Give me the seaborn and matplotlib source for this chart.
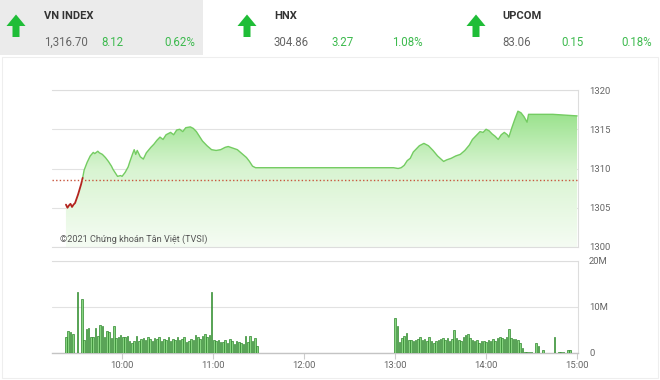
import numpy as np
import pandas as pd
import seaborn as sns
import matplotlib.pyplot as plt
from matplotlib.colors import LinearSegmentedColormap
from matplotlib.patches import Polygon, Rectangle, PathPatch

# --- header data
index_names = ['VN INDEX', 'HNX', 'UPCOM']
index_values = ['1,316.70', '304.86', '83.06']
index_changes = ['8.12', '3.27', '0.15']
index_pct = ['0.62%', '1.08%', '0.18%']

prev_close = 1308.58

# --- intraday VN-Index (time, points)
price_times = [
    '09:23', '09:24', '09:25', '09:26', '09:27', '09:28', '09:29', '09:31', '09:33', '09:34',
    '09:35', '09:37', '09:39', '09:41', '09:42', '09:44', '09:45', '09:47', '09:49', '09:51',
    '09:53', '09:54', '09:56', '09:57', '09:59', '10:00', '10:02', '10:04', '10:05', '10:07',
    '10:08', '10:09', '10:10', '10:12', '10:14', '10:16', '10:19', '10:21', '10:23', '10:25',
    '10:27', '10:29', '10:32', '10:34', '10:36', '10:38', '10:40', '10:42', '10:45', '10:47',
    '10:49', '10:51', '10:53', '10:56', '10:59', '11:02', '11:05', '11:08', '11:10', '11:13',
    '11:16', '11:19', '11:22', '11:24', '11:26', '11:28', '11:30', '12:59', '13:02', '13:04',
    '13:06', '13:08', '13:10', '13:12', '13:14', '13:16', '13:19', '13:22', '13:25', '13:28',
    '13:32', '13:34', '13:37', '13:40', '13:43', '13:46', '13:49', '13:51', '13:54', '13:56',
    '13:58', '14:00', '14:02', '14:04', '14:06', '14:08', '14:10', '14:12', '14:14', '14:15',
    '14:17', '14:19', '14:21', '14:23', '14:25', '14:27', '14:28', '14:44', '15:00',
]
price_values = [
    1305.4, 1305.0, 1305.3, 1305.5, 1305.1, 1305.4, 1305.6, 1306.7, 1308.0, 1308.8,
    1309.8, 1310.8, 1311.6, 1312.05, 1311.9, 1312.2, 1312.0, 1311.8, 1311.4, 1310.9,
    1310.3, 1309.9, 1309.3, 1309.0, 1309.1, 1309.0, 1309.5, 1310.2, 1310.8, 1311.9,
    1312.4, 1311.8, 1312.3, 1311.5, 1311.2, 1312.0, 1312.7, 1313.1, 1313.6, 1314.0,
    1313.7, 1314.3, 1314.6, 1314.3, 1314.9, 1315.0, 1314.7, 1315.2, 1315.3, 1315.1,
    1314.7, 1314.1, 1313.5, 1312.9, 1312.4, 1312.3, 1312.4, 1312.7, 1312.8, 1312.6,
    1312.4, 1311.9, 1311.4, 1310.9, 1310.3, 1310.1, 1310.1, 1310.1, 1310.0, 1310.1,
    1310.4, 1311.0, 1311.3, 1312.1, 1312.5, 1312.9, 1313.2, 1312.9, 1312.3, 1311.6,
    1310.9, 1311.1, 1311.3, 1311.6, 1311.8, 1312.3, 1313.0, 1313.7, 1314.3, 1314.7,
    1314.6, 1315.0, 1314.8, 1314.4, 1314.1, 1313.7, 1314.3, 1314.6, 1314.3, 1314.0,
    1315.2, 1316.3, 1317.3, 1317.1, 1316.6, 1315.9, 1316.9, 1316.9, 1316.7,
]

# --- matched volume (million shares), one bar every 1.5 minutes
am_start, pm_start, bar_step = '09:23', '13:00', 1.5
am_volume = [
    3.5, 4.8, 4.5, 4.1, 0, 13.2, 0, 11.7, 2.8, 5.2,
    5.4, 3.5, 3.4, 5.4, 3.8, 6.0, 5.9, 3.5, 4.8, 4.5,
    3.2, 5.8, 3.2, 3.5, 3.9, 3.5, 3.4, 3.6, 2.6, 2.1,
    2.6, 3.8, 2.6, 3.1, 3.3, 2.9, 3.4, 3.0, 2.7, 3.3,
    3.0, 3.4, 2.6, 3.1, 2.8, 3.4, 2.7, 3.1, 2.9, 3.5,
    2.8, 3.0, 3.4, 2.5, 2.7, 3.1, 2.9, 3.9, 3.5, 3.1,
    3.8, 4.1, 3.4, 3.9, 13.2, 2.8, 2.6, 2.9, 2.5, 2.4,
    2.9, 2.2, 3.1, 2.6, 2.0, 2.7, 2.4, 2.1, 2.0, 3.6,
    2.5, 3.8, 2.7, 3.3, 1.5,
]
pm_volume = [
    7.6, 5.8, 2.5, 3.2, 3.6, 4.4, 2.9, 2.9, 2.6, 2.8,
    3.0, 3.5, 2.9, 3.0, 2.6, 3.5, 2.6, 2.2, 2.6, 2.9,
    3.0, 3.2, 2.9, 3.2, 2.6, 3.0, 4.9, 3.2, 2.9, 2.6,
    3.5, 3.9, 4.2, 3.2, 2.9, 2.6, 2.9, 2.2, 2.6, 2.7,
    2.5, 2.9, 2.7, 3.1, 2.6, 3.2, 3.4, 3.2, 3.0, 3.4,
    5.2, 3.2, 3.0, 3.0, 2.9, 2.2, 1.0, 0.3, 0.3, 0.3,
    0.3, 0, 2.2, 1.5, 0, 0.6, 0, 0, 0, 0,
    3.5, 0, 0.3, 0.3, 0.3, 0, 0.6, 0.6,
]
hour_ticks = [10, 11, 12, 13, 14, 15]


def to_hours(s):
    h, m = s.split(':')
    return int(h) + int(m) / 60


price = pd.DataFrame({'t': [to_hours(s) for s in price_times], 'p': price_values})
vol = pd.DataFrame({
    't': [to_hours(am_start) + i * bar_step / 60 for i in range(len(am_volume))]
         + [to_hours(pm_start) + i * bar_step / 60 for i in range(len(pm_volume))],
    'v': am_volume + pm_volume,
})

sns.set_style('white')
plt.rcParams['font.family'] = ['Roboto', 'DejaVu Sans']

fig = plt.figure(figsize=(6.6, 3.8), dpi=100)

# background / header layer in pixel coordinates
bg = fig.add_axes([0, 0, 1, 1], zorder=0)
bg.set_xlim(0, 660)
bg.set_ylim(380, 0)
bg.axis('off')
bg.add_patch(Rectangle((0, 0), 203, 55, color='#ebebeb', lw=0))
bg.add_patch(Rectangle((2, 57), 656, 321, fill=False, ec='#eeeeee', lw=0.8))

arrow_x = [16, 247, 476]
label_x = [44, 274, 502]
change_x = [101, 332, 561]
pct_x = [164, 392, 621]
for i in range(3):
    cx = arrow_x[i]
    bg.add_patch(Polygon([(cx, 14.5), (cx + 9.5, 26), (cx + 3.5, 26), (cx + 3.5, 37),
                          (cx - 3.5, 37), (cx - 3.5, 26), (cx - 9.5, 26)],
                         closed=True, color='#1fbd37', lw=0))
    bg.text(label_x[i], 16, index_names[i], fontsize=8, fontweight='bold',
            color='#333333', va='center', ha='left')
    bg.text(label_x[i], 42, index_values[i], fontsize=8.3, color='#666666',
            va='center', ha='left')
    bg.text(change_x[i], 42, index_changes[i], fontsize=8.3, color='#3dba4e',
            va='center', ha='left')
    bg.text(pct_x[i], 42, index_pct[i], fontsize=8.3, color='#3dba4e',
            va='center', ha='left')

xlim = (9.23, 15.01)
grid_c = '#e2e2e2'
label_c = '#666666'

# --- price chart
ax = fig.add_axes([52 / 660, 1 - 247 / 380, 526 / 660, 157 / 380], zorder=2)
ax.set_facecolor('none')

cmap = LinearSegmentedColormap.from_list('grn', ['#f5fcf3', '#d8f4d1', '#80da70'])
grad = np.linspace(0, 1, 256).reshape(-1, 1)
im = ax.imshow(grad, extent=[xlim[0], xlim[1], 1300, 1320], origin='lower',
               aspect='auto', cmap=cmap, zorder=1)
area = ax.fill_between(price['t'], price['p'], 1300, color='none', lw=0)
clip = PathPatch(area.get_paths()[0], transform=ax.transData, fc='none', ec='none')
ax.add_patch(clip)
im.set_clip_path(clip)

below = price[price['t'] <= to_hours('09:34')]
above = price[price['t'] >= to_hours('09:34')]
sns.lineplot(data=above, x='t', y='p', ax=ax, color='#74cc62', lw=1, zorder=3)
sns.lineplot(data=below, x='t', y='p', ax=ax, color='#b3241f', lw=1.3, zorder=4)
ax.axhline(prev_close, color='#c8553d', lw=1, ls=(0, (1, 1.6)), zorder=5)

ax.set_xlim(*xlim)
ax.set_ylim(1300, 1320)
ax.set_yticks([1300, 1305, 1310, 1315, 1320])
ax.yaxis.tick_right()
ax.tick_params(axis='y', length=0, pad=8, labelsize=6.8, labelcolor=label_c)
ax.set_xticks([])
ax.set_xlabel('')
ax.set_ylabel('')
ax.grid(axis='y', color=grid_c, lw=0.8)
ax.spines['left'].set_visible(False)
for s in ['top', 'right', 'bottom']:
    ax.spines[s].set_color('#dddddd')
    ax.spines[s].set_linewidth(0.8)
ax.text(0.015, 0.05, '©2021 Chứng khoán Tân Việt (TVSI)', transform=ax.transAxes,
        fontsize=6.6, color='#555555', va='center', ha='left', zorder=6)

# --- volume chart
vx = fig.add_axes([52 / 660, 1 - 353 / 380, 526 / 660, 92 / 380], zorder=2)
vx.set_facecolor('none')
vx.bar(vol['t'], vol['v'], width=0.017, color='#86d47f', edgecolor='#2e862c',
       linewidth=0.5, zorder=3)
vx.set_xlim(*xlim)
vx.set_ylim(0, 20)
vx.set_yticks([0, 10, 20])
vx.set_yticklabels(['0', '10M', '20M'])
vx.yaxis.tick_right()
vx.tick_params(axis='y', length=0, pad=8, labelsize=6.8, labelcolor=label_c)
vx.set_xticks(hour_ticks)
vx.set_xticklabels([f'{h}:00' for h in hour_ticks])
vx.tick_params(axis='x', length=4, width=0.8, color='#cccccc', pad=2,
               labelsize=6.8, labelcolor=label_c, bottom=True)
vx.grid(axis='y', color=grid_c, lw=0.8)
vx.spines['left'].set_visible(False)
vx.spines['bottom'].set_color('#c4c4c4')
vx.spines['bottom'].set_linewidth(1)
for s in ['top', 'right']:
    vx.spines[s].set_color('#dddddd')
    vx.spines[s].set_linewidth(0.8)

fig.savefig('out.png', dpi=100)
